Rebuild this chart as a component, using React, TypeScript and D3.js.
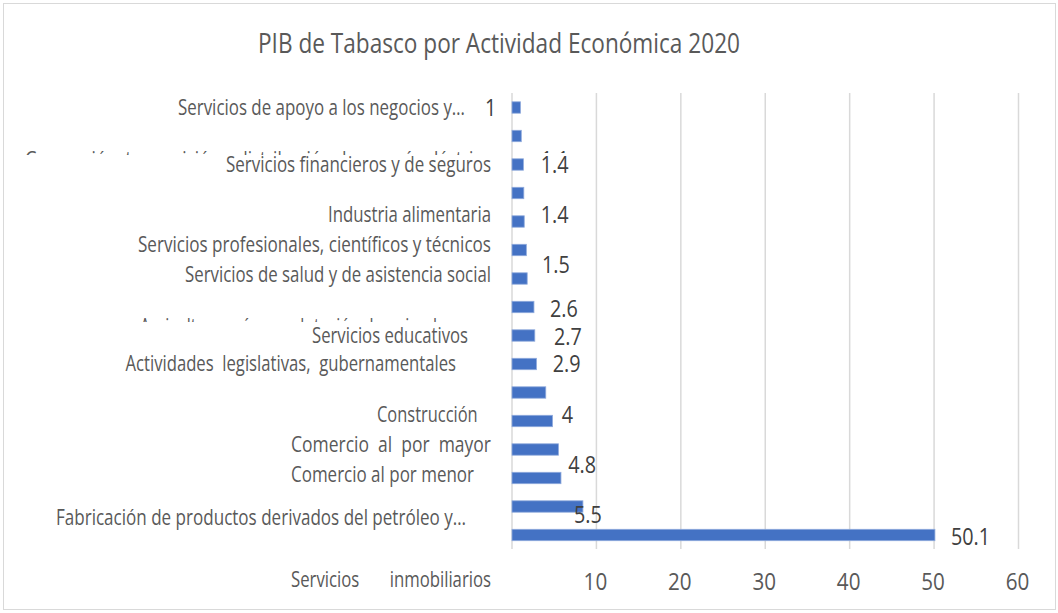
import React from "react";
import * as d3 from "d3";

// ---- data ----
const title = "PIB de Tabasco por Actividad Económica 2020";
const values = [1.0, 1.1, 1.35, 1.4, 1.45, 1.7, 1.8, 2.6, 2.7, 2.9, 4.0, 4.8, 5.5, 5.8, 8.4, 50.1];
const categories = [
  "Servicios de apoyo a los negocios y…",
  "Generación, transmisión y distribución de energía eléctrica",
  "Servicios financieros y de seguros",
  "Industria alimentaria",
  "Servicios profesionales, científicos y técnicos",
  "Servicios de salud y de asistencia social",
  "Agricultura, cría y explotación de animales…",
  "Servicios educativos",
  "Actividades  legislativas,  gubernamentales",
  "Construcción",
  "Comercio  al  por  mayor",
  "Comercio al por menor",
  "Fabricación de productos derivados del petróleo y…",
  "Servicios       inmobiliarios",
];
const valueLabels = ["1", "1.1", "1.4", "1.4", "1.5", "2.6", "2.7", "2.9", "4", "4.8", "5.5", "50.1"];
const ticks = [10, 20, 30, 40, 50, 60];

// ---- layout (annotation placement, as in the source picture) ----
// [left, right, baseline, clipBottom]
const catLayout: [number, number, number, number | null][] = [
  [178, 465, 115, null],
  [25, 491, 167, 155],
  [226, 491, 171.7, null],
  [328, 491, 221.7, null],
  [138, 491, 252, null],
  [185, 491, 281.7, null],
  [140, 466, 334, 322],
  [312, 468, 343.3, null],
  [125.5, 456, 370.7, null],
  [377, 477.6, 421.7, null],
  [291, 491, 451.7, null],
  [291, 474, 481.7, null],
  [56, 466, 525, null],
  [291, 491, 586.7, null],
];
// [left, baseline, clipBottom]
const valLayout: [number, number, number | null][] = [
  [485, 116, null],
  [541, 168, 153],
  [540.7, 173.3, null],
  [540.7, 223.3, null],
  [542, 273, null],
  [550, 316.7, null],
  [554, 345, null],
  [552.7, 371.7, null],
  [561.7, 423.3, null],
  [568.3, 473.3, null],
  [574, 522.7, null],
  [951, 545, null],
];

const W = 1058;
const H = 613;
const SX = 0.86;
const FONT = "'Open Sans', 'DejaVu Sans', sans-serif";

export default function App() {
  const x = d3.scaleLinear().domain([0, 60]).range([512, 1018.5]);
  const y = d3
    .scaleBand<number>()
    .domain(d3.range(values.length))
    .range([93.25, 549.25])
    .paddingInner(0.6)
    .paddingOuter(0.3);
  const [y0, y1] = [93, 549];

  return (
    <svg
      width={W}
      height={H}
      style={{ position: "absolute", left: 0, top: 0, background: "#fff" }}
      fontFamily={FONT}
    >
      <defs>
        {[...catLayout.map((c) => c[3]), ...valLayout.map((v) => v[2])]
          .filter((c) => c !== null)
          .map((c) => (
            <clipPath id={`clip${c}`} key={`clip${c}`}>
              <rect x={0} y={0} width={W} height={c as number} />
            </clipPath>
          ))}
      </defs>
      <rect x={3.5} y={3.5} width={1052} height={606} fill="#fff" stroke="#d9d9d9" strokeWidth={1} />

      <text
        x={258}
        y={53}
        fontSize={28}
        fill="#595959"
        textLength={482}
        lengthAdjust="spacingAndGlyphs"
      >
        {title}
      </text>

      {/* gridlines */}
      {ticks.map((t) => (
        <line key={t} x1={x(t)} x2={x(t)} y1={y0} y2={y1} stroke="#d9d9d9" strokeWidth={1.5} />
      ))}
      <line x1={x(0)} x2={x(0)} y1={y0} y2={y1} stroke="#d9d9d9" strokeWidth={1.5} />

      {/* bars */}
      {values.map((v, i) => (
        <rect
          key={i}
          x={x(0)}
          y={y(i)!}
          width={x(v) - x(0)}
          height={y.bandwidth()}
          fill="#4472C4"
          stroke="#8FAADC"
          strokeWidth={0.8}
        />
      ))}

      {/* tick labels */}
      {ticks.map((t) => (
        <text
          key={t}
          transform={`translate(${x(t) - 1},590) scale(${SX},1)`}
          fontSize={24}
          fill="#595959"
          textAnchor="middle"
        >
          {t}
        </text>
      ))}

      {/* category labels */}
      {categories.map((c, i) => {
        const [l, r, b, clip] = catLayout[i];
        return (
          <text
            key={i}
            x={l}
            y={b}
            fontSize={21}
            fill="#595959"
            textLength={r - l}
            lengthAdjust="spacingAndGlyphs"
            style={{ whiteSpace: "pre" }}
            clipPath={clip !== null ? `url(#clip${clip})` : undefined}
          >
            {c}
          </text>
        );
      })}

      {/* value labels */}
      {valueLabels.map((s, i) => {
        const [l, b, clip] = valLayout[i];
        return (
          <g key={i} clipPath={clip !== null ? `url(#clip${clip})` : undefined}>
            <text transform={`translate(${l},${b}) scale(${SX},1)`} fontSize={23} fill="#404040">
              {s}
            </text>
          </g>
        );
      })}
    </svg>
  );
}
